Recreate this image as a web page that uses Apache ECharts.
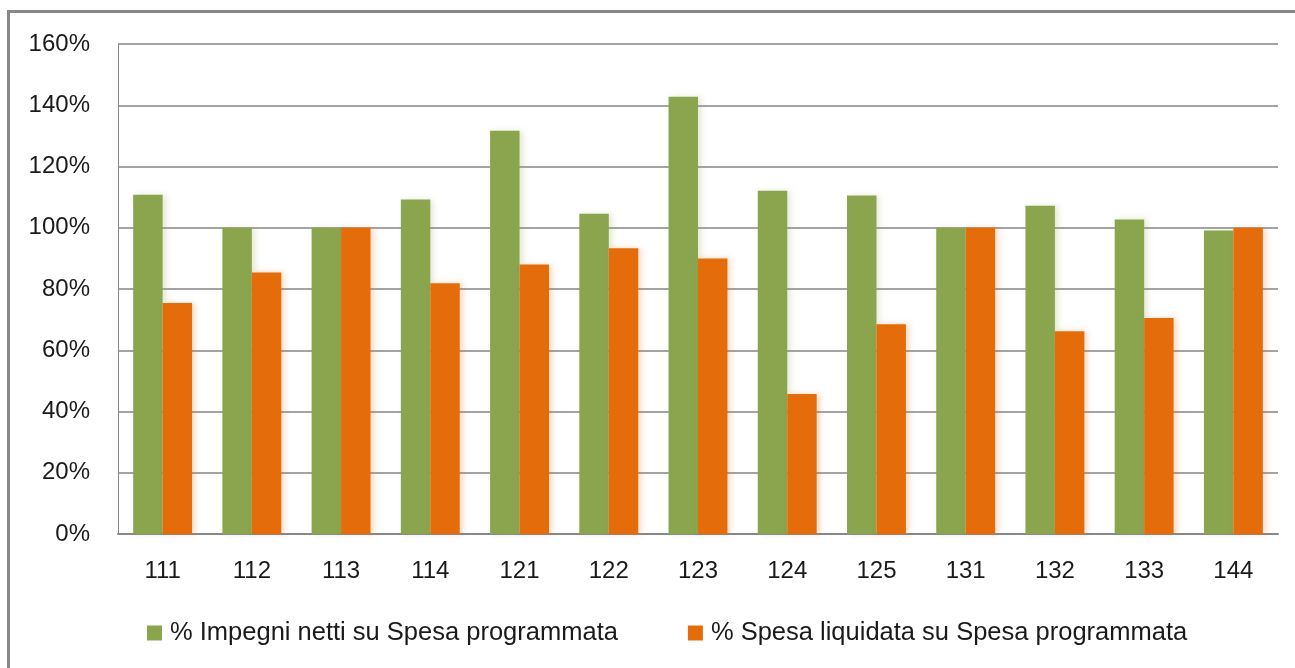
<!DOCTYPE html>
<html>
<head>
<meta charset="utf-8">
<script src="https://cdn.jsdelivr.net/npm/echarts@6/dist/echarts.min.js"></script>
<style>
html,body{margin:0;padding:0;background:#fff;}
#chart{width:1295px;height:668px;}
</style>
</head>
<body>
<div id="chart"></div>
<script>
const categories = ['111','112','113','114','121','122','123','124','125','131','132','133','144'];
const impegni = [110.8, 100, 100, 109.2, 131.7, 104.6, 142.8, 112.1, 110.5, 100, 107.2, 102.7, 99.1];
const liquidata = [75.4, 85.4, 100, 81.9, 88.0, 93.3, 90.0, 45.7, 68.5, 100, 66.2, 70.5, 100];
const seriesNames = ['% Impegni netti su Spesa programmata', '% Spesa liquidata su Spesa programmata'];
const yTicks = [0, 20, 40, 60, 80, 100, 120, 140, 160];

const FONT = '"Liberation Sans", Arial, sans-serif';
const chart = echarts.init(document.getElementById('chart'), null, {renderer: 'canvas'});
chart.setOption({
  animation: false,
  backgroundColor: '#ffffff',
  graphic: [{
    type: 'rect',
    shape: {x: 8.5, y: 11.5, width: 1400, height: 800},
    style: {fill: 'none', stroke: '#888888', lineWidth: 3},
    silent: true
  }],
  grid: {left: 118, right: 17, top: 44, bottom: 134, containLabel: false},
  legend: {
    data: seriesNames,
    top: 615,
    left: 142,
    itemWidth: 15,
    itemHeight: 15,
    itemGap: 70,
    icon: 'rect',
    textStyle: {fontFamily: FONT, fontSize: 25.5, color: '#1a1a1a', padding: [0, 0, 0, 3]}
  },
  xAxis: {
    type: 'category',
    data: categories,
    axisLine: {show: true, lineStyle: {color: '#888888', width: 2}},
    axisTick: {show: false},
    axisLabel: {fontFamily: FONT, fontSize: 24, color: '#1a1a1a', margin: 25}
  },
  yAxis: {
    type: 'value',
    min: yTicks[0],
    max: yTicks[yTicks.length - 1],
    interval: 20,
    axisLine: {show: true, lineStyle: {color: '#888888', width: 1}},
    axisTick: {show: false},
    splitLine: {show: true, lineStyle: {color: '#868686', width: 1.5}},
    axisLabel: {fontFamily: FONT, fontSize: 24, color: '#1a1a1a', margin: 28, formatter: v => v + '%'}
  },
  series: [
    {
      name: seriesNames[0],
      type: 'bar',
      data: impegni,
      barGap: '0%',
      barCategoryGap: '34%',
      itemStyle: {color: '#8AA54E', shadowColor: 'rgba(140,165,80,0.25)', shadowBlur: 6, shadowOffsetX: 3}
    },
    {
      name: seriesNames[1],
      type: 'bar',
      data: liquidata,
      barGap: '0%',
      barCategoryGap: '34%',
      itemStyle: {color: '#E46C0A', shadowColor: 'rgba(228,108,10,0.25)', shadowBlur: 6, shadowOffsetX: 3}
    }
  ]
});
</script>
</body>
</html>
